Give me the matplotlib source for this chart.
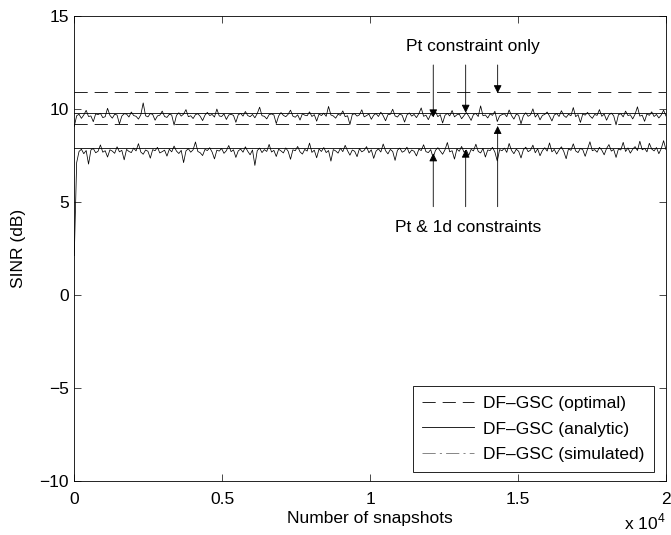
import numpy as np
import matplotlib
matplotlib.use('Agg')
import matplotlib.pyplot as plt
from matplotlib.ticker import FuncFormatter
from matplotlib.lines import Line2D

plt.rcParams['font.family'] = ['Liberation Sans', 'DejaVu Sans']
plt.rcParams['mathtext.fontset'] = 'custom'
plt.rcParams['mathtext.rm'] = 'Liberation Sans'
plt.rcParams['lines.scale_dashes'] = False

# ---------------data
n_max = 20000
opt_pt = 10.88      # optimal, Pt constraint only
opt_pt1d = 9.17     # optimal, Pt & 1d constraints
ana_pt = 9.78       # analytic, Pt constraint only
ana_pt1d = 7.87     # analytic, Pt & 1d constraints

sim_pt = [
    9.05, 9.62, 9.70, 9.48, 9.66, 9.91, 9.58, 9.61, 9.30, 9.72, 9.68, 9.75, 9.52, 9.57, 10.02, 9.64, 9.49, 9.70, 9.66, 9.18,
    9.60, 9.73, 9.71, 9.55, 9.82, 9.63, 9.59, 9.44, 9.67, 10.31, 9.62, 9.56, 9.74, 9.69, 9.38, 9.61, 9.65, 9.87, 9.58, 9.53,
    9.70, 9.66, 9.12, 9.64, 9.78, 9.60, 9.71, 9.95, 9.57, 9.62, 9.47, 9.68, 9.73, 9.59, 9.36, 9.65, 9.80, 9.63, 9.69, 9.55,
    9.98, 9.61, 9.58, 9.72, 9.42, 9.66, 9.70, 9.64, 9.27, 9.67, 9.75, 9.60, 9.85, 9.63, 9.57, 9.69, 9.51, 9.74, 10.08, 9.62,
    9.59, 9.45, 9.68, 9.72, 9.66, 9.20, 9.61, 9.79, 9.64, 9.57, 9.70, 9.92, 9.60, 9.54, 9.67, 9.39, 9.73, 9.65, 9.62, 9.83,
    9.58, 9.68, 9.33, 9.71, 9.63, 9.76, 9.59, 10.12, 9.66, 9.61, 9.49, 9.70, 9.64, 9.88, 9.57, 9.62, 9.15, 9.69, 9.73, 9.60,
    9.67, 9.94, 9.56, 9.63, 9.71, 9.43, 9.65, 9.74, 9.58, 9.81, 9.62, 9.35, 9.68, 9.70, 9.97, 9.61, 9.55, 9.72, 9.64, 9.28,
    9.66, 9.77, 9.60, 9.69, 9.52, 9.73, 10.04, 9.59, 9.65, 9.41, 9.70, 9.62, 9.84, 9.57, 9.68, 9.23, 9.64, 9.75, 9.61, 9.90,
    9.56, 9.67, 9.71, 9.46, 9.63, 9.79, 9.60, 9.37, 9.69, 9.74, 9.58, 10.15, 9.62, 9.66, 9.50, 9.72, 9.64, 9.86, 9.31, 9.61,
    9.68, 9.73, 9.57, 9.93, 9.63, 9.44, 9.70, 9.65, 9.19, 9.62, 9.78, 9.59, 9.67, 9.99, 9.55, 9.71, 9.40, 9.64, 9.69, 9.82,
    9.60, 9.34, 9.66, 9.74, 9.58, 9.89, 9.63, 9.53, 9.70, 9.62, 10.06, 9.57, 9.68, 9.26, 9.72, 9.65, 9.80, 9.61, 9.48, 9.69,
    9.64, 9.95, 9.59, 9.71, 9.38, 9.66, 9.76, 9.62, 9.13, 9.68, 9.73, 9.56, 9.87, 9.63, 9.67, 9.45, 9.70, 10.10, 9.60, 9.65,
    9.32, 9.72, 9.64, 9.83, 9.58, 9.69, 9.50, 9.66, 9.92, 9.61,
]
sim_pt1d = [
    2.10, 7.10, 7.70, 7.82, 7.58, 7.75, 7.02, 7.78, 7.86, 7.63, 7.71, 8.05, 7.66, 7.74, 7.40, 7.79, 7.72, 7.60, 7.95, 7.68,
    7.76, 7.25, 7.81, 7.70, 7.64, 7.88, 7.73, 8.12, 7.67, 7.55, 7.78, 7.71, 7.34, 7.80, 7.74, 7.92, 7.62, 7.69, 7.77, 7.45,
    7.82, 7.68, 7.99, 7.72, 7.59, 7.76, 7.10, 7.73, 7.85, 7.66, 7.79, 8.21, 7.70, 7.63, 7.48, 7.81, 7.75, 7.90, 7.67, 7.30,
    7.77, 7.72, 7.86, 7.60, 7.74, 8.02, 7.69, 7.79, 7.38, 7.73, 7.83, 7.66, 7.95, 7.71, 7.52, 7.78, 6.95, 7.75, 7.88, 7.64,
    7.80, 7.70, 8.08, 7.67, 7.76, 7.43, 7.82, 7.73, 7.62, 7.89, 7.71, 7.28, 7.79, 7.74, 7.97, 7.68, 7.56, 7.81, 7.72, 8.15,
    7.65, 7.77, 7.36, 7.83, 7.70, 7.91, 7.64, 7.75, 7.18, 7.80, 7.73, 7.61, 7.87, 7.69, 8.03, 7.74, 7.50, 7.78, 7.71, 7.42,
    7.85, 7.68, 7.76, 7.96, 7.63, 7.79, 7.33, 7.72, 7.84, 7.67, 8.10, 7.74, 7.57, 7.81, 7.70, 7.22, 7.77, 7.88, 7.66, 7.73,
    7.93, 7.60, 7.78, 7.71, 7.46, 7.82, 7.75, 8.06, 7.69, 7.64, 7.80, 7.37, 7.76, 7.90, 7.72, 7.55, 7.79, 8.18, 7.68, 7.74,
    7.29, 7.83, 7.71, 7.97, 7.66, 7.77, 7.49, 7.81, 7.73, 8.09, 7.70, 7.62, 7.86, 7.40, 7.78, 7.75, 7.92, 7.67, 7.19, 7.80,
    7.74, 7.88, 7.65, 8.13, 7.76, 7.58, 7.82, 7.71, 7.35, 7.79, 7.93, 7.69, 7.77, 8.04, 7.63, 7.84, 7.47, 7.75, 7.90, 7.72,
    8.16, 7.68, 7.81, 7.56, 7.78, 7.95, 7.70, 7.31, 7.85, 7.76, 8.11, 7.73, 7.64, 7.87, 7.79, 7.44, 7.83, 8.22, 7.74, 7.80,
    7.66, 7.92, 7.77, 7.52, 7.86, 8.07, 7.72, 7.81, 7.38, 7.84, 7.78, 8.19, 7.70, 7.89, 7.61, 7.82, 7.96, 7.75, 8.25, 7.79,
    7.87, 7.68, 8.14, 7.83, 7.73, 7.91, 7.58, 7.85, 8.28, 7.80,
]
snap = np.linspace(0, n_max, len(sim_pt))

# arrows: x position, tail y, head y
arr_down_x = [12134, 13230, 14311]
arr_down_tip = [9.53, 9.78, 10.83]
arr_down_tail = 12.35
arr_up_x = [12134, 13230, 14311]
arr_up_tip = [7.60, 7.80, 9.07]
arr_up_tail = 4.73

xticks = [0, 5000, 10000, 15000, 20000]
yticks = [-10, -5, 0, 5, 10, 15]
fs = 12.5

# ---------------plot
fig = plt.figure(figsize=(6.71, 5.35), dpi=100)
ax = fig.add_axes([0.1107, 0.1015, 0.8818, 0.8692])

dash = (0, (9.5, 5.0))
dashdot = (0, (9.5, 3.0, 1.5, 3.0))
lw = 0.6

ax.plot([0, n_max], [opt_pt, opt_pt], color='k', lw=lw, linestyle=dash)
ax.plot([0, n_max], [opt_pt1d, opt_pt1d], color='k', lw=lw, linestyle=dash)
ax.plot([0, n_max], [ana_pt, ana_pt], color='k', lw=lw)
ax.plot([0, n_max], [ana_pt1d, ana_pt1d], color='k', lw=lw)
ax.plot(snap, sim_pt, color='k', lw=0.55)
ax.plot(snap, sim_pt1d, color='k', lw=0.55)

akw = dict(arrowstyle='-|>', color='k', lw=0.6, mutation_scale=12, shrinkA=0, shrinkB=0)
for x, tip in zip(arr_down_x, arr_down_tip):
    ax.annotate('', xy=(x, tip), xytext=(x, arr_down_tail), arrowprops=akw)
for x, tip in zip(arr_up_x, arr_up_tip):
    ax.annotate('', xy=(x, tip), xytext=(x, arr_up_tail), arrowprops=akw)

ax.text(13480, 13.33, 'Pt constraint only', ha='center', va='center', fontsize=fs)
ax.text(13310, 3.59, 'Pt & 1d constraints', ha='center', va='center', fontsize=fs)

ax.set_xlim(0, n_max)
ax.set_ylim(-10, 15)
ax.set_xticks(xticks)
ax.set_yticks(yticks)
ax.xaxis.set_major_formatter(FuncFormatter(lambda v, p: '%g' % (v / 1e4)))
ax.yaxis.set_major_formatter(FuncFormatter(lambda v, p: ('%g' % v).replace('-', '\u2212')))
ax.tick_params(direction='in', length=5, width=0.5, top=True, right=True, labelsize=fs)
ax.tick_params(axis='x', pad=8)
ax.tick_params(axis='y', pad=4)
for s in ax.spines.values():
    s.set_linewidth(0.6)

ax.set_xlabel('Number of snapshots', fontsize=fs, labelpad=3)
ax.set_ylabel('SINR (dB)', fontsize=fs, labelpad=9.5)
fig.text(0.9605, 0.024, r'x 10$^{4}$', ha='center', va='center', fontsize=fs)

handles = [
    Line2D([], [], color='k', lw=0.6, linestyle=dash),
    Line2D([], [], color='k', lw=0.6),
    Line2D([], [], color='0.45', lw=0.6, linestyle=dashdot),
]
labels = ['DF\u2013GSC (optimal)', 'DF\u2013GSC (analytic)', 'DF\u2013GSC (simulated)']
leg = ax.legend(handles, labels, loc='lower right', bbox_to_anchor=(0.9797, 0.0194),
                borderaxespad=0, fontsize=fs, fancybox=False, framealpha=1,
                edgecolor='k', handlelength=3.0, handletextpad=0.5,
                labelspacing=0.6, borderpad=0.55)
leg.get_frame().set_linewidth(0.6)

fig.savefig('out.png', dpi=100)
